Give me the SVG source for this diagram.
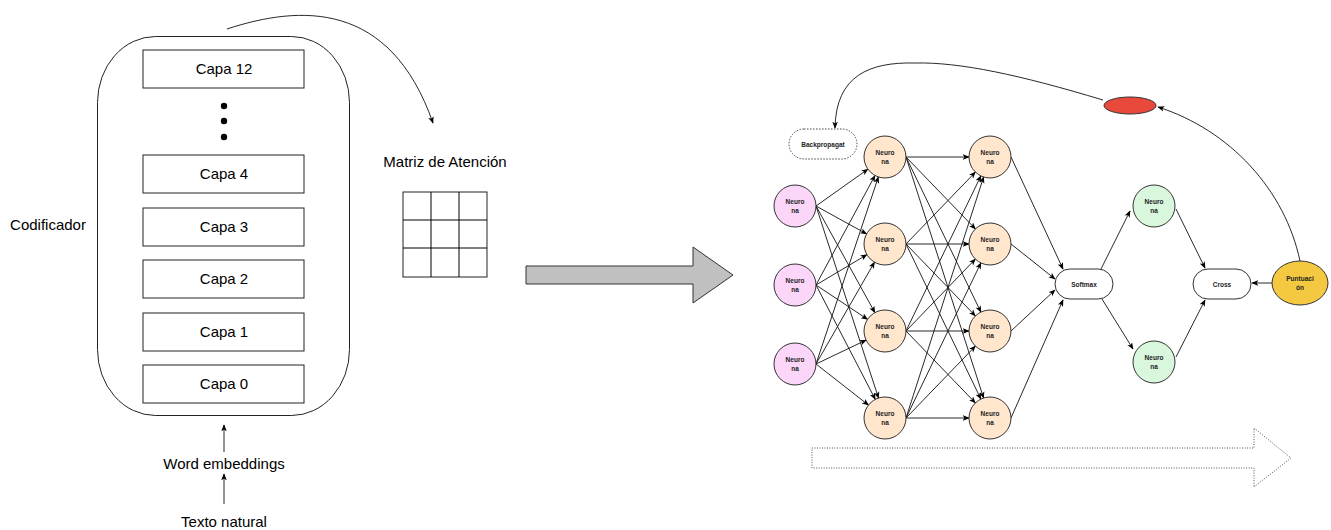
<svg xmlns="http://www.w3.org/2000/svg" width="1331" height="530" viewBox="0 0 1331 530">
<style>
.t{font-family:"Liberation Sans",Arial,sans-serif;font-size:15px;fill:#000;text-anchor:middle}
.s{font-family:"Liberation Sans",Arial,sans-serif;font-size:6.5px;font-weight:bold;fill:#222;text-anchor:middle}
.box{fill:#fff;stroke:#222;stroke-width:1}
.ln{fill:none;stroke:#000;stroke-width:1}
.cn{fill:none;stroke:#111;stroke-width:0.9;marker-end:url(#ah)}
.pk{fill:#fbd6f8;stroke:#333;stroke-width:1}
.or{fill:#ffe6cc;stroke:#333;stroke-width:1}
.gr{fill:#d9f7dc;stroke:#333;stroke-width:1}
</style>
<defs>
<marker id="ah" viewBox="0 0 10 10" refX="9" refY="5" markerWidth="7" markerHeight="7" markerUnits="userSpaceOnUse" orient="auto"><path d="M0,1 L10,5 L0,9 L2.5,5 z" fill="#000"/></marker>
</defs>
<rect width="1331" height="530" fill="#fff"/>

<g id="encoder">
<rect x="97.5" y="36.5" width="252" height="379" rx="58" ry="66" class="box"/>
</g>
<g id="capa12"><rect x="143" y="50" width="161" height="38" class="box"/><text x="224" y="74" class="t">Capa 12</text></g>
<g id="dots"><circle cx="224" cy="106" r="3.2" fill="#000"/><circle cx="224" cy="121" r="3.2" fill="#000"/><circle cx="224" cy="137" r="3.2" fill="#000"/></g>
<g id="capa4"><rect x="143" y="155" width="161" height="38" class="box"/><text x="224" y="179" class="t">Capa 4</text></g>
<g id="capa3"><rect x="143" y="208" width="161" height="38" class="box"/><text x="224" y="232" class="t">Capa 3</text></g>
<g id="capa2"><rect x="143" y="260" width="161" height="38" class="box"/><text x="224" y="284" class="t">Capa 2</text></g>
<g id="capa1"><rect x="143" y="313" width="161" height="38" class="box"/><text x="224" y="337" class="t">Capa 1</text></g>
<g id="capa0"><rect x="143" y="365" width="161" height="38" class="box"/><text x="224" y="389" class="t">Capa 0</text></g>
<g id="codificador"><text x="48" y="230" class="t">Codificador</text></g>
<g id="word"><text x="224" y="469" class="t">Word embeddings</text></g>
<g id="texto"><text x="224" y="527" class="t">Texto natural</text></g>
<g id="matriz">
<text x="445" y="167" class="t">Matriz de Atención</text>
<rect x="403" y="192" width="84" height="85" class="box"/>
<path d="M431,192 V277 M459,192 V277 M403,220 H487 M403,248 H487" class="ln" stroke="#222"/>
</g>
<g id="bigArrow"><path d="M526,266 H693 V247 L733,275 L693,303 V284 H526 Z" fill="#c0c0c0" stroke="#333" stroke-width="1"/></g>
<g id="flowArrow"><path d="M812,448 H1254 V428 L1291,458 L1254,487 V468 H812 Z" fill="none" stroke="#555" stroke-width="1" stroke-dasharray="1 1.5"/></g>

<g id="connectors">
<path d="M224,452 V425" class="cn"/>
<path d="M224,504 V474" class="cn"/>
<path d="M227,29 C300,5 390,0 433,123" class="cn"/>
<path d="M816,206 L867.9,169.2" class="cn"/>
<path d="M816,206 L866.6,233.9" class="cn"/>
<path d="M816,206 L874.9,312.6" class="cn"/>
<path d="M816,206 L878.5,398" class="cn"/>
<path d="M816,285 L875,175.5" class="cn"/>
<path d="M816,285 L866.9,254.7" class="cn"/>
<path d="M816,285 L867.5,319.3" class="cn"/>
<path d="M816,285 L875.3,399.4" class="cn"/>
<path d="M816,364 L878.4,176.9" class="cn"/>
<path d="M816,364 L874.5,262.2" class="cn"/>
<path d="M816,364 L866.1,340.1" class="cn"/>
<path d="M816,364 L868.5,405.1" class="cn"/>
<path d="M906,157 L969,157" class="cn"/>
<path d="M906,157 L975.4,228.9" class="cn"/>
<path d="M906,157 L980.9,312.1" class="cn"/>
<path d="M906,157 L983.6,398" class="cn"/>
<path d="M906,244 L975.4,172.1" class="cn"/>
<path d="M906,244 L969,244" class="cn"/>
<path d="M906,244 L975.4,315.9" class="cn"/>
<path d="M906,244 L980.9,399.1" class="cn"/>
<path d="M906,331 L980.9,175.9" class="cn"/>
<path d="M906,331 L975.4,259.1" class="cn"/>
<path d="M906,331 L969,331" class="cn"/>
<path d="M906,331 L975.4,402.9" class="cn"/>
<path d="M906,418 L983.6,177" class="cn"/>
<path d="M906,418 L980.9,262.9" class="cn"/>
<path d="M906,418 L975.4,346.1" class="cn"/>
<path d="M906,418 L969,418" class="cn"/>
<path d="M1011,157 L1063,269" class="cn"/>
<path d="M1011,244 L1055,279" class="cn"/>
<path d="M1011,331 L1055,290" class="cn"/>
<path d="M1011,418 L1063,300" class="cn"/>
<path d="M1101,269 L1130,211" class="cn"/>
<path d="M1102,299 L1133,349" class="cn"/>
<path d="M1176,209 L1205,268" class="cn"/>
<path d="M1176,357 L1205,300" class="cn"/>
<path d="M1272,283 L1252,283" class="cn"/>
<path d="M1300,261 C1285,190 1230,130 1158,107" class="cn"/>
<path d="M1103,100 C1020,75 960,62 915,63 C870,62 836,75 835,128" class="cn"/>
</g>

<g id="backprop"><rect x="789" y="129" width="68" height="30" rx="15" fill="#fff" stroke="#333" stroke-width="0.9" stroke-dasharray="1.5 1.5"/><text x="823" y="146.5" class="s">Backpropagat</text></g>
<g id="i1"><circle cx="795" cy="206" r="21" class="pk"/><text x="795" y="204" class="s">Neuro</text><text x="795" y="213" class="s">na</text></g>
<g id="i2"><circle cx="795" cy="285" r="21" class="pk"/><text x="795" y="283" class="s">Neuro</text><text x="795" y="292" class="s">na</text></g>
<g id="i3"><circle cx="795" cy="364" r="21" class="pk"/><text x="795" y="362" class="s">Neuro</text><text x="795" y="371" class="s">na</text></g>
<g id="h1"><circle cx="885" cy="157" r="21" class="or"/><text x="885" y="155" class="s">Neuro</text><text x="885" y="164" class="s">na</text></g>
<g id="h2"><circle cx="885" cy="244" r="21" class="or"/><text x="885" y="242" class="s">Neuro</text><text x="885" y="251" class="s">na</text></g>
<g id="h3"><circle cx="885" cy="331" r="21" class="or"/><text x="885" y="329" class="s">Neuro</text><text x="885" y="338" class="s">na</text></g>
<g id="h4"><circle cx="885" cy="418" r="21" class="or"/><text x="885" y="416" class="s">Neuro</text><text x="885" y="425" class="s">na</text></g>
<g id="k1"><circle cx="990" cy="157" r="21" class="or"/><text x="990" y="155" class="s">Neuro</text><text x="990" y="164" class="s">na</text></g>
<g id="k2"><circle cx="990" cy="244" r="21" class="or"/><text x="990" y="242" class="s">Neuro</text><text x="990" y="251" class="s">na</text></g>
<g id="k3"><circle cx="990" cy="331" r="21" class="or"/><text x="990" y="329" class="s">Neuro</text><text x="990" y="338" class="s">na</text></g>
<g id="k4"><circle cx="990" cy="418" r="21" class="or"/><text x="990" y="416" class="s">Neuro</text><text x="990" y="425" class="s">na</text></g>
<g id="softmax"><rect x="1055" y="269" width="58" height="30" rx="15" fill="#fff" stroke="#333" stroke-width="1"/><text x="1084" y="286.5" class="s">Softmax</text></g>
<g id="g1"><circle cx="1154" cy="206" r="21" class="gr"/><text x="1154" y="204" class="s">Neuro</text><text x="1154" y="213" class="s">na</text></g>
<g id="g2"><circle cx="1154" cy="362" r="21" class="gr"/><text x="1154" y="360" class="s">Neuro</text><text x="1154" y="369" class="s">na</text></g>
<g id="cross"><rect x="1193" y="269" width="58" height="30" rx="15" fill="#fff" stroke="#333" stroke-width="1"/><text x="1222" y="286.5" class="s">Cross</text></g>
<g id="puntuacion"><ellipse cx="1300" cy="283" rx="28" ry="22" fill="#f5c842" stroke="#333" stroke-width="1"/><text x="1300" y="281" class="s">Puntuaci</text><text x="1300" y="290" class="s">ón</text></g>
<g id="red"><ellipse cx="1130" cy="105.5" rx="26" ry="8.5" fill="#e8493b" stroke="#333" stroke-width="1"/></g>
</svg>
